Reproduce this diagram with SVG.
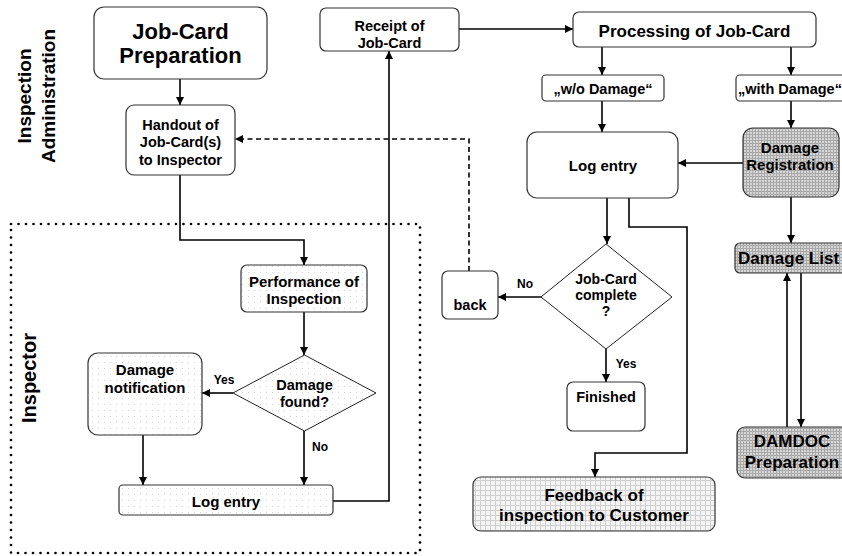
<svg xmlns="http://www.w3.org/2000/svg" width="842" height="556" viewBox="0 0 842 556">
<defs>
<style>
text{font-family:"Liberation Sans",Arial,sans-serif;font-weight:bold;fill:#000;text-anchor:middle}
.box{stroke:#333;stroke-width:1.2;fill:#fff}
.dia{stroke:#222;stroke-width:1;fill:#fff}
.con{stroke:#000;stroke-width:1.6;fill:none}
.arr{marker-end:url(#ah)}
.dash{stroke-dasharray:5 3.5}
.dots{fill:url(#pDots)}
.gray{fill:url(#pGray)}
.grid{fill:url(#pGrid)}
.lbl{font-size:12px}
</style>
<marker id="ah" viewBox="0 0 10 10" refX="10" refY="5" markerWidth="8" markerHeight="8" markerUnits="userSpaceOnUse" orient="auto">
<path d="M0,0 L10,5 L0,10 z" fill="#000"/>
</marker>
<pattern id="pDots" width="6" height="6" patternUnits="userSpaceOnUse">
<rect width="6" height="6" fill="#fff"/>
<rect x="2" y="2" width="1" height="1" fill="#d4d4d4"/>
</pattern>
<pattern id="pGray" width="3" height="3" patternUnits="userSpaceOnUse">
<rect width="3" height="3" fill="#a9a9a9"/>
<rect x="0" y="0" width="2" height="2" fill="#d6d6d6"/>
</pattern>
<pattern id="pGrid" width="5" height="5" patternUnits="userSpaceOnUse">
<rect width="5" height="5" fill="#f4f4f4"/>
<path d="M0,0.5 H5 M0.5,0 V5" stroke="#cfcfcf" stroke-width="1"/>
</pattern>
</defs>
<rect width="842" height="556" fill="#fff"/>

<g id="lanes">
<rect x="11" y="224" width="409" height="329" fill="none" stroke="#000" stroke-width="2.7" stroke-linecap="round" stroke-dasharray="0 7.5"/>
<text transform="translate(31,96) rotate(-90)" font-size="19">Inspection</text>
<text transform="translate(55,96) rotate(-90)" font-size="19">Administration</text>
<text transform="translate(36,378) rotate(-90)" font-size="20">Inspector</text>
</g>

<g id="connectors">
<path class="con arr" d="M180,79 V105"/>
<path class="con arr" d="M180,175 V240 H304 V265"/>
<path class="con arr" d="M304,312 V355"/>
<path class="con arr" d="M233,393 H202"/>
<path class="con arr" d="M304,431 V485"/>
<path class="con arr" d="M143,435 V485"/>
<path class="con arr" d="M333,501 H389 V51"/>
<path class="con arr" d="M459,29 H573"/>
<path class="con arr" d="M602,47 V75"/>
<path class="con arr" d="M791,47 V75"/>
<path class="con arr" d="M602,101 V132"/>
<path class="con arr" d="M791,101 V128"/>
<path class="con arr" d="M743,163 H678"/>
<path class="con arr" d="M607,198 V244"/>
<path class="con arr" d="M629,198 V227 H687 V453 H595 V477"/>
<path class="con arr" d="M541,297 H498"/>
<path class="con arr" d="M606,349 V382"/>
<path class="con arr dash" d="M469,271 V139 H235"/>
<path class="con arr" d="M791,197 V243"/>
<path class="con arr" d="M801,273 V427"/>
<path class="con arr" d="M787,427 V273"/>
<text class="lbl" x="224" y="384">Yes</text>
<text class="lbl" x="320" y="451">No</text>
<text class="lbl" x="525" y="288">No</text>
<text class="lbl" x="626" y="368">Yes</text>
</g>

<g id="jobcard-prep">
<rect class="box" x="94" y="7" width="173" height="72" rx="10"/>
<text x="180.5" y="39" font-size="22">Job-Card</text>
<text x="180.5" y="63" font-size="22">Preparation</text>
</g>

<g id="handout">
<rect class="box" x="126" y="105" width="109" height="70" rx="8"/>
<text x="180.5" y="129.5" font-size="14.5">Handout of</text>
<text x="180.5" y="147" font-size="14.5">Job-Card(s)</text>
<text x="180.5" y="164.5" font-size="14.5">to Inspector</text>
</g>

<g id="performance">
<rect class="box dots" x="241" y="265" width="126" height="47" rx="6"/>
<text x="304" y="287" font-size="15">Performance of</text>
<text x="304" y="304" font-size="15">Inspection</text>
</g>

<g id="damage-found">
<path class="dia dots" d="M304.5,355 L376,393 L304.5,431 L233,393 Z"/>
<text x="304.5" y="390" font-size="14.5">Damage</text>
<text x="304.5" y="407" font-size="14.5">found?</text>
</g>

<g id="damage-notification">
<rect class="box dots" x="88" y="353" width="114" height="82" rx="10"/>
<text x="145" y="375" font-size="15">Damage</text>
<text x="145" y="393" font-size="15">notification</text>
</g>

<g id="log-entry-inspector">
<rect class="box dots" x="119" y="485" width="214" height="30" rx="4"/>
<text x="226" y="507" font-size="15">Log entry</text>
</g>

<g id="receipt">
<rect class="box" x="320" y="8" width="139" height="43" rx="6"/>
<text x="389.5" y="31" font-size="14.5">Receipt of</text>
<text x="389.5" y="48" font-size="14.5">Job-Card</text>
</g>

<g id="processing">
<rect class="box" x="573" y="12" width="243" height="35" rx="6"/>
<text x="694.5" y="37" font-size="17">Processing of Job-Card</text>
</g>

<g id="wo-damage">
<rect class="box" x="542" y="75" width="122" height="26" rx="4"/>
<text x="603" y="94" font-size="14.5">„w/o Damage“</text>
</g>

<g id="with-damage">
<rect class="box" x="736" y="75" width="120" height="26" rx="4"/>
<text x="738" y="94" font-size="14.5" style="text-anchor:start">„with Damage“</text>
</g>

<g id="log-entry-admin">
<rect class="box" x="527" y="132" width="151" height="66" rx="10"/>
<text x="603" y="171" font-size="15">Log entry</text>
</g>

<g id="damage-registration">
<rect class="box gray" x="743" y="128" width="96" height="69" rx="10"/>
<text x="790" y="153" font-size="15">Damage</text>
<text x="790" y="170" font-size="15">Registration</text>
</g>

<g id="jobcard-complete">
<path class="dia" d="M606,244 L672,297 L606,349 L541,297 Z"/>
<text x="606" y="284" font-size="14">Job-Card</text>
<text x="606" y="300" font-size="14">complete</text>
<text x="606" y="316" font-size="14">?</text>
</g>

<g id="back">
<rect class="box" x="442" y="271" width="56" height="48" rx="6"/>
<text x="470" y="310" font-size="14.5">back</text>
</g>

<g id="finished">
<rect class="box" x="567" y="382" width="78" height="49" rx="6"/>
<text x="606" y="402" font-size="14.5">Finished</text>
</g>

<g id="feedback">
<rect class="box grid" x="473" y="477" width="242" height="54" rx="8"/>
<text x="594" y="501" font-size="17">Feedback of</text>
<text x="594" y="521" font-size="17">inspection to Customer</text>
</g>

<g id="damage-list">
<rect class="box gray" x="735" y="243" width="120" height="30" rx="5"/>
<text x="738" y="264" font-size="17" style="text-anchor:start">Damage List</text>
</g>

<g id="damdoc">
<rect class="box gray" x="737" y="427" width="112" height="51" rx="8"/>
<text x="792" y="447" font-size="17">DAMDOC</text>
<text x="792" y="468" font-size="17">Preparation</text>
</g>
</svg>
